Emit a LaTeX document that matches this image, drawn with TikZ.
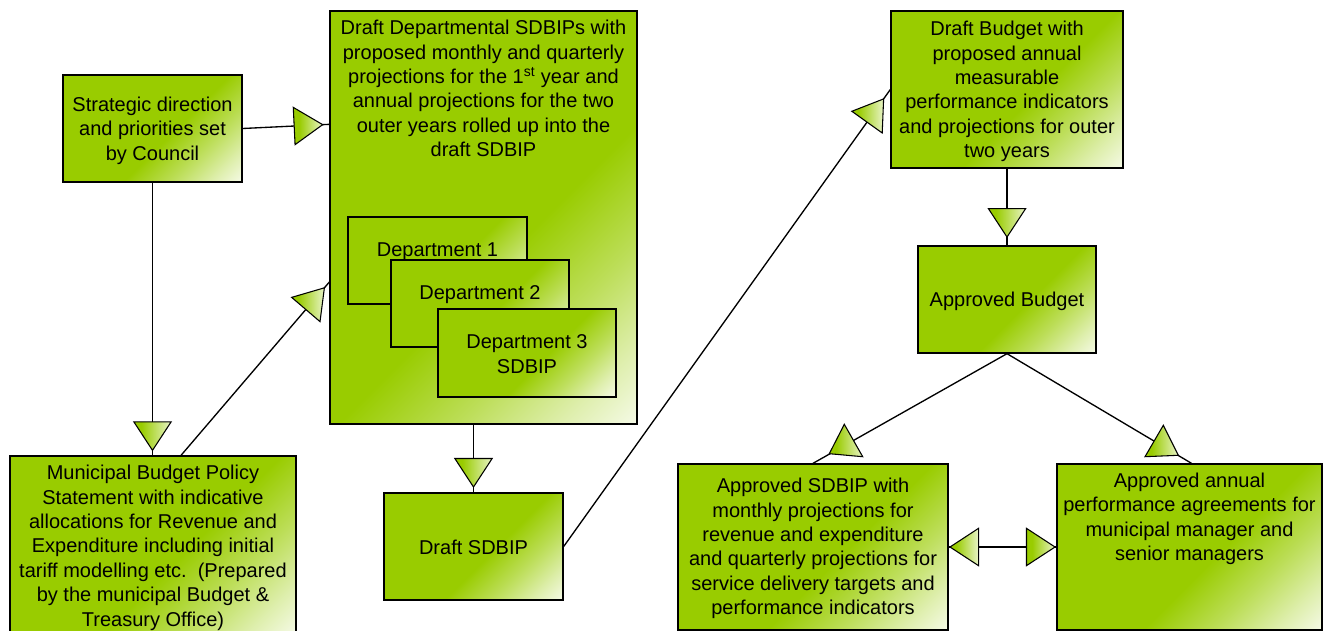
\documentclass[tikz,border=0pt]{standalone}
\usepackage{fontspec}
\setmainfont{Liberation Sans}
\usetikzlibrary{fit,calc,decorations.markings}
\definecolor{vg}{RGB}{153,204,0}
\pgfdeclarehorizontalshading{boxfade}{100bp}{color(0bp)=(vg); color(56bp)=(vg); color(68bp)=(vg!65!white); color(78bp)=(vg!32!white); color(86bp)=(vg!8!white); color(100bp)=(white)}
\pgfdeclarehorizontalshading{trifade}{100bp}{color(0bp)=(vg); color(35bp)=(vg); color(75bp)=(vg!22!white); color(100bp)=(vg!22!white)}
\newcommand{\fsz}{\fontsize{15pt}{18.3pt}\selectfont}
\newcommand{\tritip}{\draw[tri] (0pt,0pt) -- (-21.4pt,14pt) -- (-21.4pt,-14pt) -- cycle;}
\newcommand{\tritipback}{\draw[tri] (0pt,0pt) -- (21.4pt,14pt) -- (21.4pt,-14pt) -- cycle;}
\tikzset{
  box/.style={draw=black, line width=1pt, shading=boxfade, shading angle=-45, inner sep=0pt},
  txt/.style={font=\fsz, align=center, inner sep=0pt, text=black},
  tri/.style={draw=black, line width=0.8pt, shading=trifade},
  conn/.style={draw=black, line width=1pt},
  arr/.style={postaction={decorate, decoration={markings, mark=at position -#1 with {\tritip}}}},
  arrback/.style={postaction={decorate, decoration={markings, mark=at position #1 with {\tritipback}}}}
}
\begin{document}
\begin{tikzpicture}[x=0.75pt,y=-0.75pt]
\useasboundingbox (0,0) rectangle (1323,631);
\clip (0,0) rectangle (1323,631);
% boxes
\node[box, fit={(63,75) (242,182)}] (strat) {};
\node[txt] (strattext) at ($(strat.center)+(0,2)$) {Strategic direction\\and priorities set\\by Council};
\node[box, fit={(330,11) (637,424)}] (draftdep) {};
\node[txt, anchor=north] (draftdeptext) at (483.5,20) {Draft Departmental SDBIPs with\\proposed monthly and quarterly\\projections for the 1\textsuperscript{st} year and\\annual projections for the two\\outer years rolled up into the\\draft SDBIP};
\node[box, fit={(348,217) (527,304)}] (dept1) {};
\node[txt] (dept1text) at ($(dept1.center)+(0,1)$) {Department 1\\SDBIP};
\node[box, fit={(391,260) (569,347)}] (dept2) {};
\node[txt] (dept2text) at ($(dept2.center)+(0,1)$) {Department 2\\SDBIP};
\node[box, fit={(438,309) (616,397)}] (dept3) {};
\node[txt] (dept3text) at ($(dept3.center)+(0,1)$) {Department 3\\SDBIP};
\node[box, fit={(10,456) (296,634)}] (muni) {};
\node[txt, anchor=north] (munitext) at (153,465) {Municipal Budget Policy\\Statement with indicative\\allocations for Revenue and\\Expenditure including initial\\tariff modelling etc.\ \ (Prepared\\by the municipal Budget \&\\Treasury Office)};
\node[box, fit={(384,493) (563,600)}] (draftsdbip) {};
\node[txt] (draftsdbiptext) at ($(draftsdbip.center)+(0,1)$) {Draft SDBIP};
\node[box, fit={(891,11) (1123,168)}] (draftbudget) {};
\node[txt] (draftbudgettext) at ($(draftbudget.center)+(0,2)$) {Draft Budget with\\proposed annual\\measurable\\performance indicators\\and projections for outer\\two years};
\node[box, fit={(918,246) (1096,353)}] (apprbudget) {};
\node[txt] (apprbudgettext) at ($(apprbudget.center)+(0,2)$) {Approved Budget};
\node[box, fit={(678,464) (948,630)}] (apprsdbip) {};
\node[txt] (apprsdbiptext) at ($(apprsdbip.center)+(0,1.5)$) {Approved SDBIP with\\monthly projections for\\revenue and expenditure\\and quarterly projections for\\service delivery targets and\\performance indicators};
\node[box, fit={(1057,464) (1322,630)}] (apprannual) {};
\node[txt, anchor=north] (apprannualtext) at (1189.5,472.8) {Approved annual\\performance agreements for\\municipal manager and\\senior managers};
% connectors
\draw[conn, arr=5pt] (strat.east) -- ($(draftdep.north west)+(0,114)$);
\draw[conn, arr=3.75pt] (strat.south) -- (strat.south |- muni.north);
\draw[conn, arr=5.7pt] ($(muni.north west)+(171.7,0)$) -- ($(draftdep.north west)+(0,271.7)$);
\draw[conn, arr=4pt] (draftsdbip.north |- draftdep.south) -- (draftsdbip.north);
\draw[conn, arr=8.6pt] (draftsdbip.east) -- (draftbudget.west);
\draw[conn, arr=6.2pt] (draftbudget.south) -- (apprbudget.north);
\draw[conn] (apprbudget.south) -- (apprsdbip.north);
\draw[conn] (apprbudget.south) -- ($(apprannual.north)+(2,0)$);
\draw[conn, arr=1pt, arrback=1pt] (apprsdbip.east) -- (apprannual.west);
\draw[tri] (829.3,453.7) -- (844.3,424.3) -- (862.7,456.7) -- cycle;
\draw[tri] (1145,456.7) -- (1163.3,425.3) -- (1178.3,455.3) -- cycle;
\end{tikzpicture}
\end{document}
